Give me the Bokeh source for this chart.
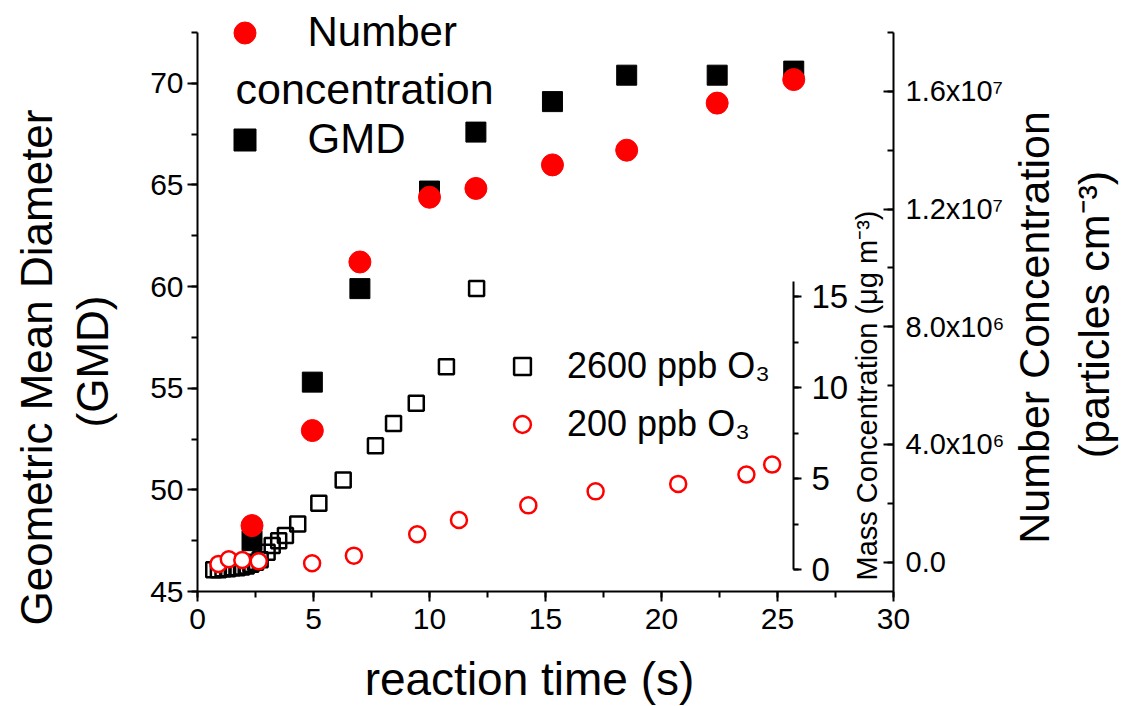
import math
from bokeh.plotting import figure
from bokeh.models import (Range1d, LinearAxis, SingleIntervalTicker, CustomJSTickFormatter,
                          Legend, LegendItem, Label)
from bokeh.embed import file_html
from bokeh.resources import INLINE

FONT = "Liberation Sans"

# ---------------- data ----------------
gmd_time = [2.35, 4.95, 7.0, 10.0, 12.0, 15.3, 18.5, 22.4, 25.7]
gmd_nm = [47.5, 55.3, 59.9, 64.7, 67.6, 69.1, 70.4, 70.4, 70.6]

num_time = [2.35, 4.95, 7.0, 10.0, 12.0, 15.3, 18.5, 22.4, 25.7]
num_conc = [1.24e6, 4.47e6, 10.2e6, 12.4e6, 12.7e6, 13.5e6, 14.0e6, 15.6e6, 16.4e6]

mass2600_time = [0.7, 0.9, 1.1, 1.3, 1.5, 1.7, 1.9, 2.1, 2.3, 2.5, 2.7, 3.0, 3.22, 3.5,
                 3.79, 4.32, 5.23, 6.28, 7.67, 8.45, 9.43, 10.73, 12.03]
mass2600 = [0.0, 0.0, 0.05, 0.05, 0.1, 0.1, 0.15, 0.2, 0.3, 0.4, 0.55, 0.95, 1.32, 1.59,
            1.87, 2.51, 3.64, 4.93, 6.81, 8.02, 9.14, 11.15, 15.44]

mass200_time = [0.9, 1.35, 1.93, 2.64, 4.94, 6.74, 9.47, 11.27, 14.26, 17.16, 20.72, 23.66, 24.77]
mass200 = [0.31, 0.57, 0.53, 0.46, 0.35, 0.77, 1.94, 2.73, 3.53, 4.3, 4.71, 5.22, 5.77]

x_title = "reaction time (s)"
left_title = ["Geometric Mean Diameter", "(GMD)"]
right_title = ["Number Concentration", "(particles cm\u207b\u00b3)"]
mass_title = "Mass Concentration (\u03bcg m\u207b\u00b3)"
legend_top = ["Number", "concentration", "GMD"]
legend_low = ["2600 ppb O\u2083", "200 ppb O\u2083"]

# axis extents (data units)
X_LIM = (0, 30)
GMD_LIM = (45, 72.5)
NUM_LIM = (-1.0e6, 1.8e7)
MASS_LIM = (-1.2, 29.5)
MASS_BOUNDS = (0, 15.8)
MASS_AXIS_AT = 25.69

# ---------------- layout (pixels) ----------------
W, H = 1123, 706
FL, FR, FT, FB = 197, 893, 32, 591   # where the axes box sits on the canvas

def ext_x(lo, hi):
    k = (hi - lo) / (FR - FL)
    return Range1d(lo - FL * k, hi + (W - FR) * k)

def ext_y(lo, hi):
    k = (hi - lo) / (FB - FT)
    return Range1d(lo - (H - FB) * k, hi + FT * k)

def px_x(px):
    k = (X_LIM[1] - X_LIM[0]) / (FR - FL)
    return X_LIM[0] + (px - FL) * k

def px_y(py, lim):
    k = (lim[1] - lim[0]) / (FB - FT)
    return lim[0] + (FB - py) * k

p = figure(width=W, height=H, output_backend="svg", toolbar_location=None,
           x_range=ext_x(*X_LIM), y_range=ext_y(*GMD_LIM), min_border=0)
p.extra_y_ranges = {"num": ext_y(*NUM_LIM), "mass": ext_y(*MASS_LIM)}
p.outline_line_color = None
p.xgrid.visible = False
p.ygrid.visible = False
p.background_fill_color = "white"
p.border_fill_color = "white"

def style_axis(ax, label_size):
    ax.axis_line_width = 2
    ax.major_tick_line_width = 2
    ax.minor_tick_line_width = 2
    ax.axis_line_color = "black"
    ax.major_tick_line_color = "black"
    ax.minor_tick_line_color = "black"
    ax.major_label_text_font = FONT
    ax.major_label_text_font_size = label_size
    ax.major_label_text_color = "black"

# x axis
xa = p.xaxis[0]
xa.ticker = SingleIntervalTicker(interval=5, num_minor_ticks=2)
xa.fixed_location = GMD_LIM[0]
xa.bounds = X_LIM
style_axis(xa, "30px")
xa.major_tick_out = 10
xa.major_tick_in = 0
xa.minor_tick_out = 6
xa.minor_tick_in = 0
xa.major_label_standoff = 7

# left axis (GMD)
ya = p.yaxis[0]
ya.ticker = SingleIntervalTicker(interval=5, num_minor_ticks=2)
ya.fixed_location = X_LIM[0]
ya.bounds = GMD_LIM
style_axis(ya, "30px")
ya.major_tick_out = 10
ya.major_tick_in = 0
ya.minor_tick_out = 6
ya.minor_tick_in = 0
ya.major_label_standoff = 4

# right axis (number concentration)
fmt = CustomJSTickFormatter(code="""
    if (Math.abs(tick) < 1) { return "0.0"; }
    const e = Math.floor(Math.log10(Math.abs(tick)) + 1e-9);
    const m = tick / Math.pow(10, e);
    const sup = {"0":"\u2070","1":"\u00b9","2":"\u00b2","3":"\u00b3","4":"\u2074",
                 "5":"\u2075","6":"\u2076","7":"\u2077","8":"\u2078","9":"\u2079"};
    return m.toFixed(1) + "x10" + String(e).split("").map(c => sup[c]).join("");
""")
ra = LinearAxis(y_range_name="num", ticker=SingleIntervalTicker(interval=4e6, num_minor_ticks=2),
                formatter=fmt, fixed_location=X_LIM[1], bounds=NUM_LIM)
style_axis(ra, "29px")
ra.major_tick_out = 0
ra.major_tick_in = 10
ra.minor_tick_out = 0
ra.minor_tick_in = 6
ra.major_label_standoff = 12
p.add_layout(ra, "right")

# inset mass-concentration axis
ma = LinearAxis(y_range_name="mass", ticker=SingleIntervalTicker(interval=5, num_minor_ticks=2),
                fixed_location=MASS_AXIS_AT, bounds=MASS_BOUNDS)
style_axis(ma, "33px")
ma.major_tick_out = 8
ma.major_tick_in = 0
ma.minor_tick_out = 5
ma.minor_tick_in = 0
ma.major_label_standoff = 10
p.add_layout(ma, "right")

# ---------------- data glyphs ----------------
r_gmd = p.scatter(gmd_time, gmd_nm, marker="square", size=20,
                  fill_color="black", line_color="black")
r_2600 = p.scatter(mass2600_time, mass2600, y_range_name="mass", marker="square", size=15,
                   fill_color=None, line_color="black", line_width=2.5)
r_200 = p.scatter(mass200_time, mass200, y_range_name="mass", marker="circle", size=16,
                  fill_color="white", line_color="#ff0000", line_width=2.5)
r_num = p.scatter(num_time, num_conc, y_range_name="num", marker="circle", size=22,
                  fill_color="#ff0000", line_color="#ff0000")

# ---------------- titles ----------------
def title(text, px, py, size, angle=0.0, lim=GMD_LIM, rng="default", align="center"):
    p.add_layout(Label(x=px_x(px), y=px_y(py, lim), y_range_name=rng, text=text,
                       angle=angle, angle_units="rad", text_align=align, text_baseline="middle",
                       text_font=FONT, text_font_size=size, text_color="black"))

title(x_title, 529, 678, "46px")
title(left_title[0], 36, 367, "44px", math.pi / 2)
title(left_title[1], 92, 361, "44px", math.pi / 2)
title(right_title[0], 1033, 327, "43px", math.pi / 2)
title(right_title[1], 1093, 314, "43px", math.pi / 2)
title(mass_title, 866, 395, "29px", math.pi / 2)
title(legend_top[1], 235, 88, "43px", align="left")

# ---------------- legends ----------------
leg1 = Legend(items=[LegendItem(label=legend_top[0], renderers=[r_num]),
                     LegendItem(label=legend_top[2], renderers=[r_gmd])],
              location=(216.5, H - 166.5), orientation="vertical",
              glyph_width=55, glyph_height=55, label_standoff=36, spacing=52,
              padding=0, margin=0, border_line_color=None, background_fill_alpha=0,
              label_text_font=FONT, label_text_font_size="42px", label_text_color="black")
leg2 = Legend(items=[LegendItem(label=legend_low[0], renderers=[r_2600]),
                     LegendItem(label=legend_low[1], renderers=[r_200])],
              location=(501, H - 445), orientation="vertical",
              glyph_width=42, glyph_height=42, label_standoff=24, spacing=16,
              padding=0, margin=0, border_line_color=None, background_fill_alpha=0,
              label_text_font=FONT, label_text_font_size="36px", label_text_color="black")
p.add_layout(leg1)
p.add_layout(leg2)

open("out.html", "w").write(file_html(p, INLINE))
